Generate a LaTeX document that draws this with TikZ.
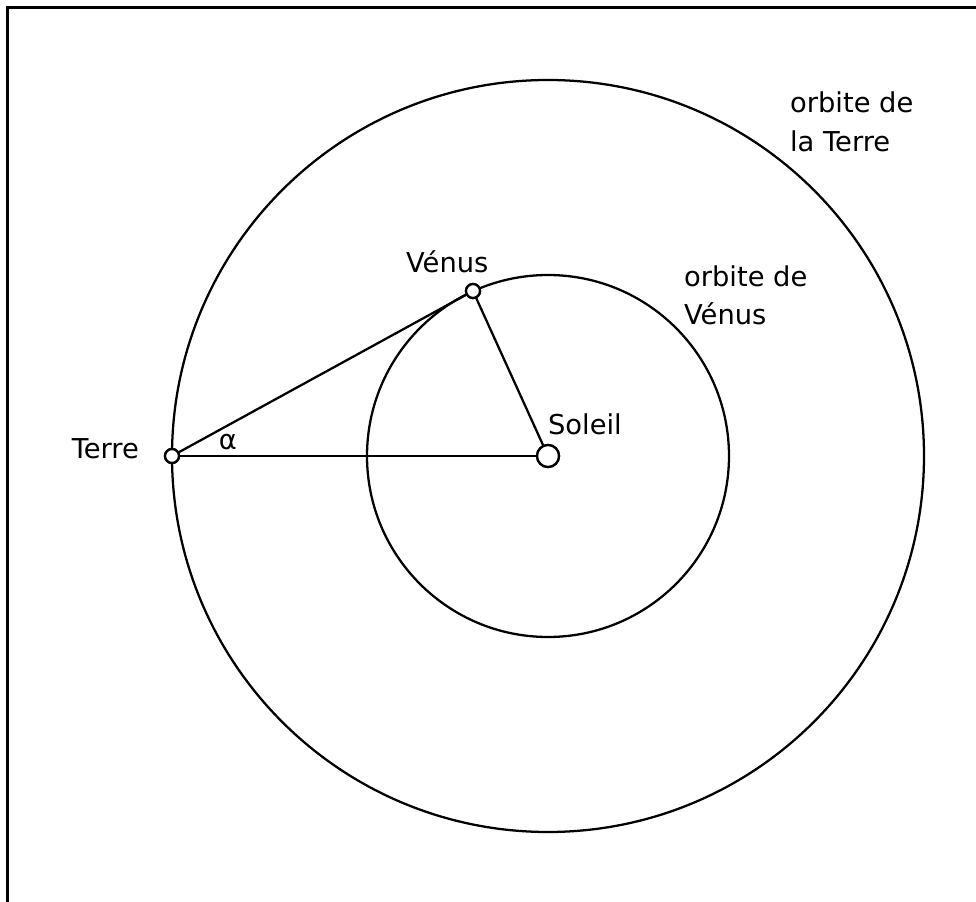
\documentclass[tikz,border=0pt]{standalone}
\usepackage{fontspec}
\setmainfont{DejaVu Sans}
\begin{document}
\begin{tikzpicture}[x=0.75pt,y=-0.75pt,line width=1.7pt,
  lbl/.style={inner sep=0pt,font=\fontsize{20.5}{24}\selectfont},
  planet/.style={circle,draw,fill=white,inner sep=0pt,minimum size=10.5pt},
  sun/.style={circle,draw,fill=white,inner sep=0pt,minimum size=16.5pt},
  orbit/.style={draw,line width=1.7pt},
  frame/.style={line width=2pt}]
\useasboundingbox (0,0) rectangle (976,902);
% frame (top and left edges)
\draw[frame] (976,7.5) -- (7.5,7.5) -- (7.5,902);
% orbits
\coordinate (C) at (548,456);
\draw[orbit] (C) circle[radius=376];
\draw[orbit] (C) circle[radius=181];
% bodies
\node[sun] (S) at (548,456) {};
\node[planet] (E) at (172,456) {};
\node[planet] (V) at (473,291) {};
% connectors
\draw (E) -- (S);
\draw (E) -- (V);
\draw (V) -- (S);
\node[sun] at (548,456) {};
\node[planet] at (172,456) {};
\node[planet] at (473,291) {};
% labels
\node[lbl,anchor=base east] (lT) at (140,459) {Terre};
\node[lbl,anchor=base] (la) at (228,450) {α};
\node[lbl,anchor=base west] (lV) at (405,273) {Vénus};
\node[lbl,anchor=base west] (lS) at (547,435) {Soleil};
\node[lbl,anchor=base west] (oV1) at (683,287) {orbite de};
\node[lbl,anchor=base west] (oV2) at (683,325) {Vénus};
\node[lbl,anchor=base west] (oT1) at (789,113) {orbite de};
\node[lbl,anchor=base west] (oT2) at (789,152) {la Terre};
\end{tikzpicture}
\end{document}
